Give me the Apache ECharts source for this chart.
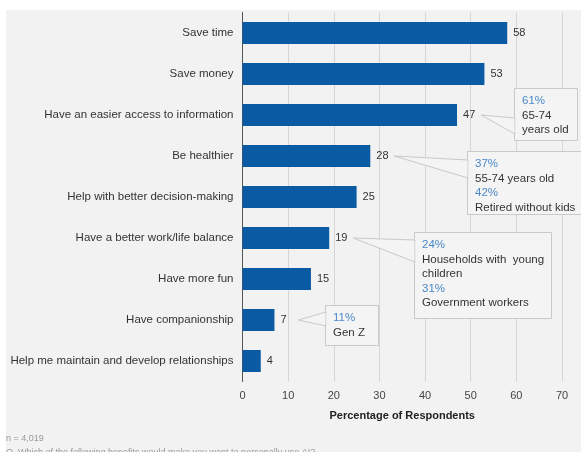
<!DOCTYPE html>
<html><head><meta charset="utf-8">
<script src="https://cdn.jsdelivr.net/npm/echarts@6/dist/echarts.min.js"></script>
<style>html,body{margin:0;padding:0;background:#fff}#c{width:581px;height:452px}</style>
</head><body><div id="c"></div>
<script>
const categories = ["Save time","Save money","Have an easier access to information","Be healthier","Help with better decision-making","Have a better work/life balance","Have more fun","Have companionship","Help me maintain and develop relationships"];
const values = [58,53,47,28,25,19,15,7,4];
const xTicks = [0,10,20,30,40,50,60,70];
const callouts = [
  {cat:2, lines:[["61%",1],["65-74",0],["years old",0]]},
  {cat:3, lines:[["37%",1],["55-74 years old",0],["42%",1],["Retired without kids",0]]},
  {cat:5, lines:[["24%",1],["Households with  young",0],["children",0],["31%",1],["Government workers",0]]},
  {cat:7, lines:[["11%",1],["Gen Z",0]]}
];
const boxes = [
  {x:514,y:88,w:63,h:52,base:[118,134]},
  {x:467,y:151,w:120,h:63,base:[160,178]},
  {x:414,y:232,w:137,h:86,base:[240,262]},
  {x:325,y:305,w:53,h:40,base:[312,326]}
];
const chart = echarts.init(document.getElementById('c'));
const FONT = '"Liberation Sans", Arial, sans-serif';
chart.setOption({
  backgroundColor:'#fff',
  animation:false,
  grid:{left:242.5,right:19,top:12.5,height:369,containLabel:false},
  xAxis:{type:'value',min:xTicks[0],max:xTicks[xTicks.length-1],interval:10,
    axisLine:{show:false},axisTick:{show:false},
    splitLine:{show:true,lineStyle:{color:'#d6d6d6',width:1}},
    axisLabel:{color:'#444',fontSize:11,fontFamily:FONT,margin:9},
    name:'Percentage of Respondents',nameLocation:'middle',nameGap:29,
    nameTextStyle:{color:'#222',fontSize:11,fontWeight:'bold',fontFamily:FONT}},
  yAxis:{type:'category',data:categories,inverse:true,
    axisLine:{show:true,lineStyle:{color:'#555',width:1}},axisTick:{show:false},
    axisLabel:{color:'#333',fontSize:11.5,fontFamily:FONT,margin:9}},
  series:[{type:'bar',data:values,barWidth:22,
    itemStyle:{color:'#0a5aa4'},
    label:{show:true,position:'right',distance:6,color:'#333',fontSize:11,fontFamily:FONT}}]
});
const g = [];
g.push({type:'rect',z:-10,shape:{x:6,y:10,width:575,height:442},style:{fill:'#f2f2f2'}});
callouts.forEach((c,i)=>{
  const b = boxes[i];
  const tip = chart.convertToPixel({gridIndex:0},[values[c.cat],c.cat]);
  const tx = tip[0]+24, ty = tip[1];
  g.push({type:'polygon',z:50,shape:{points:[[tx,ty],[b.x+1,b.base[0]],[b.x+1,b.base[1]]]},
    style:{fill:'#f4f4f4',stroke:'#c9c9c9',lineWidth:1}});
  g.push({type:'rect',z:49,shape:{x:b.x+0.5,y:b.y+0.5,width:b.w,height:b.h},
    style:{fill:'#f4f4f4',stroke:'#c9c9c9',lineWidth:1}});
  g.push({type:'rect',z:51,shape:{x:b.x+1.5,y:b.base[0]+1,width:2,height:b.base[1]-b.base[0]-2},style:{fill:'#f4f4f4'}});
  c.lines.forEach((l,j)=>{
    g.push({type:'text',z:52,x:b.x+8,y:b.y+7+j*14.5,
      style:{text:l[0],fill:l[1]?'#4a88c9':'#333',fontSize:11.5,fontFamily:FONT}});
  });
});
g.push({type:'text',x:6,y:434,style:{text:'n = 4,019',fill:'#9a9a9a',fontSize:9,fontFamily:FONT}});
g.push({type:'text',x:6,y:448,style:{text:'Q. Which of the following benefits would make you want to personally use AI?',fill:'#9a9a9a',fontSize:9,fontFamily:FONT}});
chart.setOption({graphic:g});
</script></body></html>
